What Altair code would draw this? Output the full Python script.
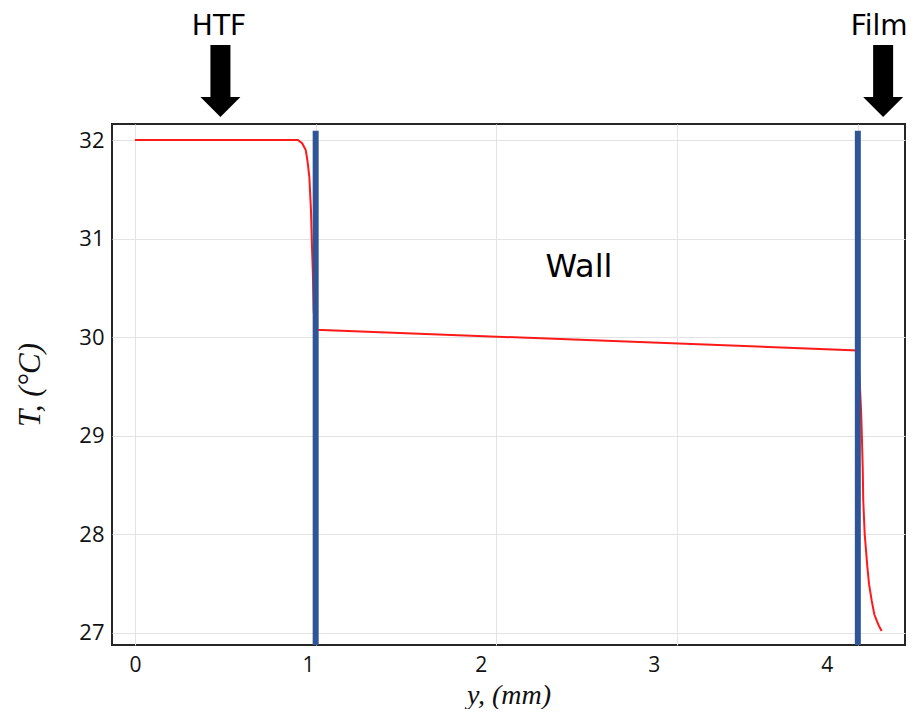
import altair as alt
import pandas as pd

# ---- data ----
curve_mm = [0.0, 0.902, 0.926, 0.945, 0.954, 0.965, 0.974, 0.979, 0.985, 0.989, 0.996, 1.0,
            4.0, 4.010, 4.018, 4.022, 4.027, 4.030, 4.038, 4.053, 4.062, 4.077, 4.091, 4.105, 4.117, 4.132]
curve_T = [32.0, 32.0, 31.966, 31.898, 31.797, 31.627, 31.289, 30.950, 30.611, 30.272, 30.12, 30.076,
           29.866, 29.56, 29.256, 29.019, 28.680, 28.341, 28.003, 27.664, 27.495, 27.325, 27.190, 27.122, 27.071, 27.020]

wall_mm = [1.0, 4.0]
wall_top_T = [32.095, 32.095]
wall_bottom_T = [26.878, 26.878]

label_text = ["HTF", "Film", "Wall"]
label_mm = [0.465, 4.118, 2.457]
label_T = [33.067, 33.067, 30.608]
label_size = [28, 28, 32]

arrow_mm = [0.473, 4.140]
arrow_T = [32.437, 32.437]

x_tick_values = [0, 1, 2, 3, 4]
y_tick_values = [27, 28, 29, 30, 31, 32]

x_grid_domain = [-0.127, 4.261]
x_label_domain = [-0.133, 4.453]
y_domain = [26.878, 32.163]

# ---- tables ----
curve_df = pd.DataFrame({"y_mm": curve_mm, "T": curve_T, "order": list(range(len(curve_mm)))})
wall_df = pd.DataFrame({"y_mm": wall_mm, "T": wall_top_T, "T2": wall_bottom_T})
label_df = pd.DataFrame({"y_mm": label_mm, "T": label_T, "text": label_text, "fs": label_size})
arrow_df = pd.DataFrame({"y_mm": arrow_mm, "T": arrow_T})
tick_df = pd.DataFrame({"tick_mm": x_tick_values, "T": [27] * len(x_tick_values)})

xs = alt.Scale(domain=x_grid_domain, nice=False, zero=False)
ys = alt.Scale(domain=y_domain, nice=False, zero=False)

y_axis = alt.Axis(
    values=y_tick_values, grid=True, gridColor="#e3e3e3", gridWidth=1,
    ticks=False, domain=False, labelFont="Open Sans", labelFontSize=22,
    labelColor="#111111", labelPadding=8,
    title="T, (°C)", titleFont="Liberation Serif", titleFontStyle="italic",
    titleFontWeight="normal", titleFontSize=31, titleColor="#111111", titlePadding=32,
)
x_grid_axis = alt.Axis(
    orient="top", values=x_tick_values, grid=True, gridColor="#e3e3e3", gridWidth=1,
    labels=False, ticks=False, domain=False, title=None,
)

X = alt.X("y_mm:Q", scale=xs, axis=x_grid_axis)
Y = alt.Y("T:Q", scale=ys, axis=y_axis)

line = alt.Chart(curve_df).mark_line(color="#ff1a1a", strokeWidth=2).encode(
    x=X, y=Y, order="order:Q"
)
walls = alt.Chart(wall_df).mark_rule(color="#2f5597", strokeWidth=6).encode(
    x=X, y=Y, y2="T2:Q"
)
texts = alt.Chart(label_df).mark_text(
    font="DejaVu Sans", color="#000000", baseline="alphabetic", align="center"
).encode(x=X, y=Y, text="text:N", size=alt.Size("fs:Q", scale=None, legend=None))

arrow_path = "M -0.5 -2.6 L 0.5 -2.6 L 0.5 0 L 1 0 L 0 1 L -1 0 L -0.5 0 Z"
arrows = alt.Chart(arrow_df).mark_point(
    shape=arrow_path, size=1600, filled=True, color="#000000", opacity=1, strokeWidth=0
).encode(x=X, y=Y)

main = alt.layer(line, walls, texts, arrows)

label_axis = alt.Axis(
    orient="bottom", values=x_tick_values, grid=False, ticks=False, domain=False,
    labelFont="Open Sans", labelFontSize=21, labelColor="#111111", labelPadding=9,
    title="y, (mm)", titleFont="Liberation Serif", titleFontStyle="italic",
    titleFontWeight="normal", titleFontSize=28, titleColor="#111111", titlePadding=6,
)
label_layer = alt.Chart(tick_df).mark_point(opacity=0).encode(
    x=alt.X("tick_mm:Q", scale=alt.Scale(domain=x_label_domain, nice=False, zero=False), axis=label_axis),
    y=alt.Y("T:Q", scale=ys, axis=y_axis),
)

chart = alt.layer(main, label_layer).resolve_scale(x="independent").properties(
    width=793, height=521,
    autosize=alt.AutoSizeParams(type="none"),
    padding={"left": 104, "top": 116, "right": 4, "bottom": 64},
    background="white",
).configure_view(stroke="#262626", strokeWidth=2)

chart.save("out.html", embed_options={"renderer": "svg", "actions": False})
